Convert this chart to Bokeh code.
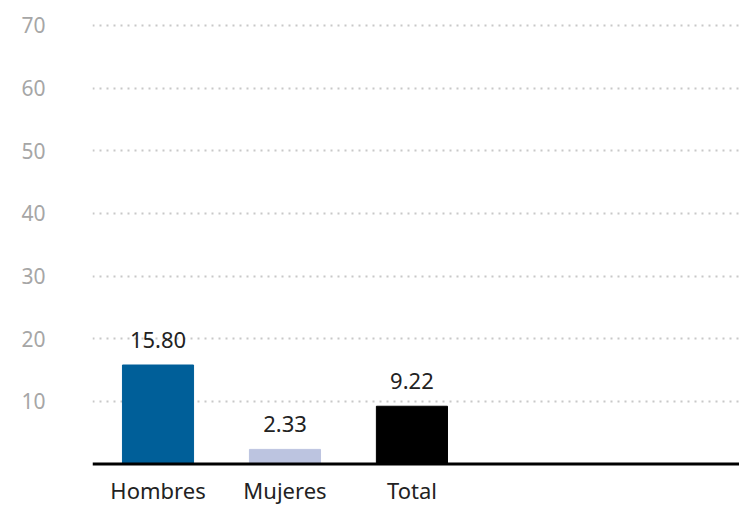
from bokeh.plotting import figure
from bokeh.models import ColumnDataSource, Span, Range1d, FixedTicker
from bokeh.embed import file_html
from bokeh.resources import INLINE
from bokeh.core.properties import value

categories = ["Hombres", "Mujeres", "Total"]
values = [15.80, 2.33, 9.22]
labels = ["15.80", "2.33", "9.22"]
colors = ["#005f99", "#bcc4e0", "#000000"]
y_ticks = [10, 20, 30, 40, 50, 60, 70]

FONT = "Noto Sans"

xpos = list(range(len(categories)))
src = ColumnDataSource(dict(x=xpos, top=values, label=labels, color=colors,
                            cat=categories, zero=[0] * len(categories)))

p = figure(width=739, height=506, output_backend="svg", toolbar_location=None,
           x_range=Range1d(-0.516, 4.58), y_range=Range1d(-6.785, 72.39),
           min_border_left=92, min_border_right=0, min_border_top=10,
           min_border_bottom=0)
p.outline_line_color = None
p.background_fill_color = "white"
p.border_fill_color = "white"

p.vbar(x="x", top="top", bottom=0, width=0.56, color="color", source=src)
p.text(x="x", y="top", text="label", source=src, text_align="center",
       text_baseline="alphabetic", y_offset=-25, text_font=value(FONT),
       text_font_size="22px", text_color="#222222")

# category labels under the baseline
p.text(x="x", y="zero", text="cat", source=src, text_align="center",
       text_baseline="top", y_offset=11, text_font=value(FONT),
       text_font_size="22px", text_color="#222222")

p.add_layout(Span(location=0, dimension="width", line_color="black", line_width=3))

p.xgrid.grid_line_color = None
p.ygrid.ticker = FixedTicker(ticks=y_ticks)
p.ygrid.grid_line_color = "#c8c8c8"
p.ygrid.grid_line_width = 2
p.ygrid.grid_line_dash = "2 5"

p.yaxis.ticker = FixedTicker(ticks=y_ticks)
p.yaxis.axis_line_color = None
p.yaxis.major_tick_line_color = None
p.yaxis.minor_tick_line_color = None
p.yaxis.major_tick_out = 0
p.yaxis.major_label_text_font = FONT
p.yaxis.major_label_text_font_size = "21px"
p.yaxis.major_label_text_color = "#a6a6a6"
p.yaxis.major_label_standoff = 47

p.xaxis.visible = False

open("out.html", "w").write(file_html(p, INLINE))
